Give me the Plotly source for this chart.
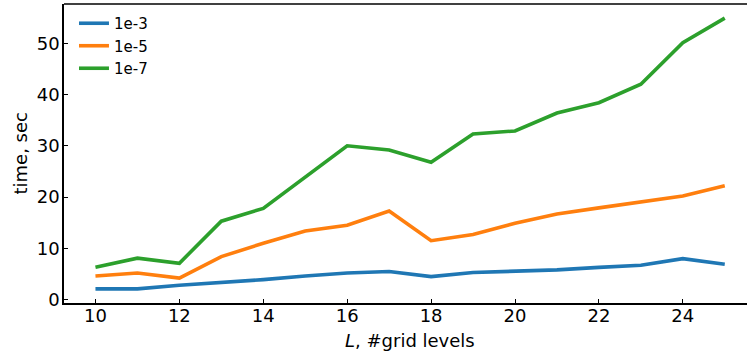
import plotly.graph_objects as go

levels = list(range(10, 26))
tol_1e3 = [2.1, 2.1, 2.8, 3.3, 3.9, 4.6, 5.2, 5.5, 4.5, 5.3, 5.5, 5.8, 6.3, 6.7, 8.0, 6.9]
tol_1e5 = [4.6, 5.2, 4.2, 8.4, 11.0, 13.4, 14.5, 17.3, 11.5, 12.7, 14.9, 16.7, 17.9, 19.0, 20.2, 22.2]
tol_1e7 = [6.3, 8.1, 7.1, 15.3, 17.8, 23.9, 30.0, 29.2, 26.8, 32.3, 32.9, 36.4, 38.4, 42.0, 50.1, 54.9]
series = [("1e-3", tol_1e3, "#1f77b4"), ("1e-5", tol_1e5, "#ff7f0e"), ("1e-7", tol_1e7, "#2ca02c")]
x_ticks = [10, 12, 14, 16, 18, 20, 22, 24]
y_ticks = [0, 10, 20, 30, 40, 50]

fig = go.Figure()
for name, vals, color in series:
    fig.add_trace(go.Scatter(x=levels, y=vals, mode="lines", name=name,
                             line=dict(color=color, width=3.6)))

font_family = "DejaVu Sans"
fig.update_layout(
    width=747, height=355,
    margin=dict(l=64, r=0, t=4, b=52),
    paper_bgcolor="white", plot_bgcolor="white",
    font=dict(family=font_family, color="black", size=18),
    showlegend=True,
    legend=dict(x=0.0146, y=0.99, xanchor="left", yanchor="top",
                bgcolor="rgba(0,0,0,0)", font=dict(size=15),
                itemwidth=30, tracegroupgap=0),
)
fig.update_xaxes(range=[9.25, 25.53], tickvals=x_ticks, ticks="inside", ticklen=4,
                 tickwidth=1, tickcolor="black", showline=True, linecolor="black",
                 linewidth=1.5, mirror=False, showgrid=False, zeroline=False,
                 tickfont=dict(size=18), ticklabelstandoff=-4)
fig.update_yaxes(range=[-0.65, 57.65], tickvals=y_ticks, ticks="inside", ticklen=4,
                 tickwidth=1, tickcolor="black", showline=True, linecolor="black",
                 linewidth=1.5, showgrid=False, zeroline=False,
                 tickfont=dict(size=18), ticklabelstandoff=-1)
# top spine
fig.add_shape(type="line", xref="paper", yref="paper", x0=0, x1=1, y0=1, y1=1,
              line=dict(color="black", width=1.5))
fig.add_annotation(text="<i>L</i>, #grid levels", xref="paper", yref="paper",
                   x=0.5066, y=0, yshift=-25, xanchor="center", yanchor="top",
                   showarrow=False, font=dict(size=18))
fig.add_annotation(text="time, sec", xref="paper", yref="paper",
                   x=-0.0644, y=0.5, xanchor="center", yanchor="middle", textangle=-90,
                   showarrow=False, font=dict(size=18))
fig.write_html("out.html", config={"displayModeBar": False},
               post_script="document.body.style.margin='0';")
